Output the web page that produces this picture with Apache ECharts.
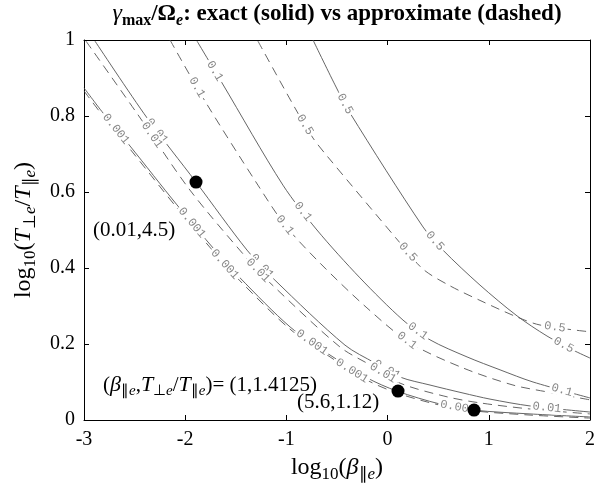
<!DOCTYPE html>
<html>
<head>
<meta charset="utf-8">
<script src="https://cdn.jsdelivr.net/npm/echarts@6/dist/echarts.min.js"></script>
<style>
  html, body { margin: 0; background: #fff; }
  #chart { width: 611px; height: 485px; }
</style>
</head>
<body>
<div id="chart"></div>
<script>
// contour lines: [log10(beta), log10(Tperp/Tpar)]
const exact05 = [[-0.737, 1], [-0.52, 0.882], [-0.372, 0.808], [0.35, 0.508], [0.547, 0.447], [0.913, 0.355], [1.279, 0.274], [1.575, 0.221], [1.832, 0.184], [2, 0.163]]
const approx05 = [[-1.281, 0.997], [-0.915, 0.821], [-0.737, 0.742], [-0.599, 0.695], [0.123, 0.466], [0.35, 0.397], [0.617, 0.353], [0.943, 0.311], [1.279, 0.271], [1.506, 0.25], [2, 0.232]]
const exact01 = [[-1.883, 0.997], [-1.636, 0.887], [-1.034, 0.618], [-0.698, 0.5], [-0.273, 0.374], [0.152, 0.263], [0.419, 0.211], [0.785, 0.166], [1.111, 0.132], [1.437, 0.1], [2, 0.058]]
const approx01 = [[-2.15, 1], [-1.804, 0.839], [-1.281, 0.618], [-1.014, 0.513], [-0.668, 0.413], [-0.204, 0.295], [0.221, 0.203], [0.745, 0.137], [1.239, 0.092], [1.575, 0.074], [2, 0.053]]
const exact001 = [[-2.891, 0.997], [-2.377, 0.795], [-1.893, 0.626], [-1.389, 0.447], [-1.113, 0.368], [-0.421, 0.197], [-0.125, 0.15], [0.123, 0.113], [0.419, 0.092], [0.745, 0.071], [1.012, 0.055], [1.407, 0.037], [2, 0.021]]
const approx001 = [[-2.98, 0.997], [-2.466, 0.803], [-1.953, 0.605], [-1.36, 0.416], [-1.162, 0.361], [-0.47, 0.192], [-0.174, 0.145], [0.123, 0.097], [0.587, 0.061], [0.913, 0.045], [1.407, 0.029], [2, 0.016]]
const exact0001 = [[-3, 0.874], [-2.812, 0.808], [-2.545, 0.721], [-2.081, 0.566], [-1.706, 0.447], [-1.458, 0.374], [-0.964, 0.245], [-0.569, 0.171], [-0.204, 0.111], [0.093, 0.076], [0.518, 0.042], [0.854, 0.026], [1.407, 0.016], [2, 0.008]]
const approx0001 = [[-3, 0.866], [-2.812, 0.8], [-2.545, 0.713], [-2.081, 0.558], [-1.706, 0.439], [-1.458, 0.366], [-0.964, 0.239], [-0.569, 0.166], [-0.204, 0.105], [0.093, 0.071], [0.518, 0.039], [0.854, 0.024], [1.407, 0.013], [2, 0.005]]

// where the inline level labels sit (x only, they ride on their line)
const labelsExact05 = [-0.42, 0.468, 1.74]
const labelsApprox05 = [-0.816, 0.202, 1.654]
const labelsExact01 = [-1.706, -0.836, 0.3, 1.723]
const labelsApprox01 = [-1.883, -1.014, 0.192]
const labelsExact001 = [-2.279, -1.241, -0.006, 1.575]
const labelsApprox001 = [-2.328, -1.28, -0.045]
const labelsExact0001 = [-2.684, -1.933, -0.747, 0.696]
const labelsApprox0001 = [-1.607, -0.352]

const dotX = [-1.893, 0.103, 0.854]
const dotY = [0.626, 0.076, 0.026]

const noteText = ['(0.01,4.5)', '({i|β}{s|∥}{si|e},{i|T}{s|⊥}{si|e}/{i|T}{s|∥}{si|e})= (1,1.4125)', '(5.6,1.12)']
const noteX = [-2.911, -2.812, -0.895]
const noteY = [0.5, 0.092, 0.047]

const serif = 'Liberation Serif'
const lineColor = '#555'

const curves = [
  { level: '0.5', data: exact05, dashed: false, at: labelsExact05 },
  { level: '0.5', data: approx05, dashed: true, at: labelsApprox05 },
  { level: '0.1', data: exact01, dashed: false, at: labelsExact01 },
  { level: '0.1', data: approx01, dashed: true, at: labelsApprox01 },
  { level: '0.01', data: exact001, dashed: false, at: labelsExact001 },
  { level: '0.01', data: approx001, dashed: true, at: labelsApprox001 },
  { level: '0.001', data: exact0001, dashed: false, at: labelsExact0001 },
  { level: '0.001', data: approx0001, dashed: true, at: labelsApprox0001 }
]

// linear lookup along a traced curve, only used to seat the labels
const onCurve = (pts, x) => {
  for (let i = 1; i < pts.length; i++) {
    if (x <= pts[i][0]) {
      const [x0, y0] = pts[i - 1]
      const [x1, y1] = pts[i]
      const t = (x - x0) / (x1 - x0)
      return [x, y0 + t * (y1 - y0)]
    }
  }
  return pts[pts.length - 1]
}

const makeRich = (size, sub, drop) => ({
  i: { fontFamily: serif, fontSize: size, fontStyle: 'italic', color: '#000' },
  s: { fontFamily: serif, fontSize: sub, color: '#000', padding: [drop, 0, 0, 0] },
  si: { fontFamily: serif, fontSize: sub, fontStyle: 'italic', color: '#000', padding: [drop, 0, 0, 0] }
})

const noZero = { onZero: false, lineStyle: { color: '#000', width: 1 } }
const tickIn = { show: true, inside: true, length: 5, lineStyle: { color: '#000' } }

const lineSeries = curves.map(c => ({
  type: 'line',
  data: c.data,
  smooth: 0.3,
  symbol: 'none',
  silent: true,
  z: 2,
  lineStyle: { color: lineColor, width: 0.9, type: c.dashed ? [9, 6] : 'solid' }
}))

const labelSeries = curves.map(c => ({
  type: 'custom',
  z: 3,
  silent: true,
  data: c.at.map(x => onCurve(c.data, x)),
  renderItem: (params, api) => {
    const x = api.value(0)
    const p = api.coord([x, api.value(1)])
    const a = api.coord(onCurve(c.data, x - 0.04))
    const b = api.coord(onCurve(c.data, x + 0.04))
    const ang = Math.atan2(b[1] - a[1], b[0] - a[0])
    return {
      type: 'text',
      x: p[0],
      y: p[1],
      rotation: -ang,
      style: {
        text: c.level,
        fill: '#888',
        font: '12px "Liberation Mono"',
        align: 'center',
        verticalAlign: 'middle',
        backgroundColor: '#fff',
        padding: [0, 2]
      }
    }
  }
}))

const chart = echarts.init(document.getElementById('chart'), null, { renderer: 'canvas' })

chart.setOption({
  animation: false,
  grid: { left: 84, right: 21, top: 40, bottom: 65, containLabel: false, outerBoundsMode: 'none' },
  xAxis: [
    {
      type: 'value', min: -3, max: 2, interval: 1, position: 'bottom',
      axisLine: noZero,
      axisTick: tickIn,
      axisLabel: { color: '#000', fontFamily: serif, fontSize: 20, margin: 10 },
      splitLine: { show: false },
      name: 'log{s|10}({i|β}{s|∥}{si|e})',
      nameLocation: 'middle',
      nameGap: 33,
      nameTextStyle: { color: '#000', fontFamily: serif, fontSize: 24, rich: makeRich(24, 17, 13) }
    },
    {
      type: 'value', min: -3, max: 2, interval: 1, position: 'top',
      axisLine: noZero,
      axisTick: tickIn,
      axisLabel: { show: false },
      splitLine: { show: false },
      name: '{g|γ}{sb|max}{b|/Ω}{sbi|e}{b|: exact (solid) vs approximate (dashed)}',
      nameLocation: 'middle',
      nameGap: 11,
      nameTextStyle: {
        color: '#000',
        rich: {
          g: { fontFamily: serif, fontSize: 24, fontStyle: 'italic', color: '#000' },
          b: { fontFamily: serif, fontSize: 23, fontWeight: 'bold', color: '#000' },
          sb: { fontFamily: serif, fontSize: 16, fontWeight: 'bold', color: '#000', padding: [14, 0, 0, 0] },
          sbi: { fontFamily: serif, fontSize: 16, fontWeight: 'bold', fontStyle: 'italic', color: '#000', padding: [14, 0, 0, 0] }
        }
      }
    }
  ],
  yAxis: [
    {
      type: 'value', min: 0, max: 1, interval: 0.2, position: 'left',
      axisLine: { show: true, ...noZero },
      axisTick: tickIn,
      axisLabel: { color: '#000', fontFamily: serif, fontSize: 20, margin: 9 },
      splitLine: { show: false },
      name: 'log{s|10}({i|T}{s|⊥}{si|e}/{i|T}{s|∥}{si|e})',
      nameLocation: 'middle',
      nameGap: 36,
      nameTextStyle: { color: '#000', fontFamily: serif, fontSize: 24, rich: makeRich(24, 17, 13) }
    },
    {
      type: 'value', min: 0, max: 1, interval: 0.2, position: 'right',
      axisLine: { show: true, ...noZero },
      axisTick: tickIn,
      axisLabel: { show: false },
      splitLine: { show: false }
    }
  ],
  series: [
    ...lineSeries,
    ...labelSeries,
    {
      type: 'scatter',
      data: dotX.map((x, i) => [x, dotY[i]]),
      symbol: 'circle',
      symbolSize: 13,
      itemStyle: { color: '#000', opacity: 1 },
      z: 5,
      silent: true
    },
    {
      type: 'scatter',
      data: noteX.map((x, i) => ({ value: [x, noteY[i]], text: noteText[i] })),
      symbolSize: 0,
      silent: true,
      z: 6,
      itemStyle: { opacity: 1 },
      label: {
        show: true,
        position: 'right',
        distance: 0,
        formatter: p => p.data.text,
        color: '#000',
        fontFamily: serif,
        fontSize: 21,
        rich: makeRich(22, 15, 12)
      }
    }
  ]
})
</script>
</body>
</html>
